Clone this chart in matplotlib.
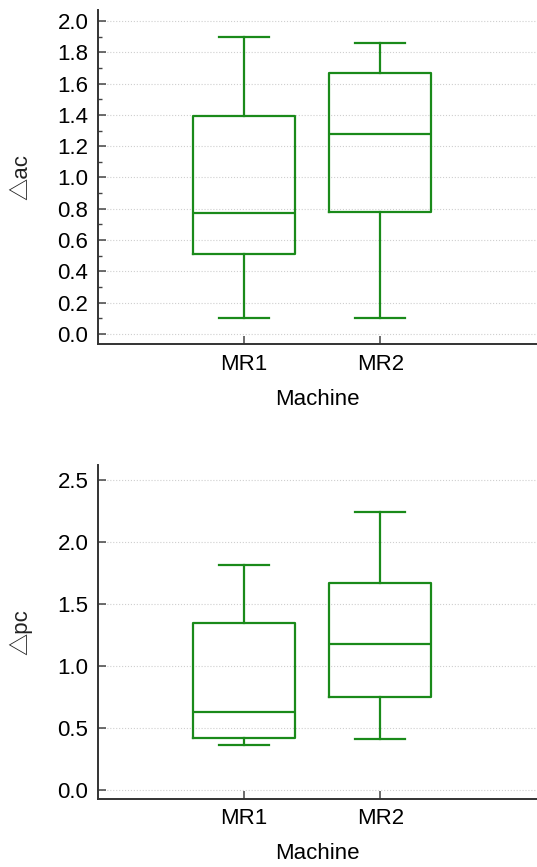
import numpy as np
import matplotlib.pyplot as plt
from matplotlib.ticker import MultipleLocator

plt.rcParams['font.family'] = ['Liberation Sans', 'DejaVu Sans']

machines = ['MR1', 'MR2']

# delta ac: whisker low, Q1, median, Q3, whisker high
ac_low = [0.10, 0.10]
ac_q1 = [0.51, 0.78]
ac_med = [0.77, 1.28]
ac_q3 = [1.39, 1.67]
ac_high = [1.90, 1.86]

# delta pc
pc_low = [0.36, 0.41]
pc_q1 = [0.42, 0.75]
pc_med = [0.63, 1.18]
pc_q3 = [1.35, 1.67]
pc_high = [1.81, 2.24]

green = '#1a8a1a'


def make_stats(low, q1, med, q3, high):
    st = []
    for i, m in enumerate(machines):
        st.append({'label': m, 'whislo': low[i], 'q1': q1[i], 'med': med[i],
                   'q3': q3[i], 'whishi': high[i], 'fliers': []})
    return st


def draw(ax, stats, ylabel, ylim, major, minor):
    ln = dict(color=green, lw=1.6)
    ax.bxp(stats, positions=[0, 1], widths=0.75, capwidths=0.37,
           boxprops=ln, whiskerprops=ln, capprops=ln, medianprops=ln,
           showfliers=False)
    ax.set_xlim(-1.07, 2.15)
    ax.set_ylim(*ylim)
    ax.yaxis.set_major_locator(MultipleLocator(major))
    if minor:
        ax.yaxis.set_minor_locator(MultipleLocator(minor))
    ax.yaxis.set_major_formatter('{x:.1f}')
    ax.grid(axis='y', color='#cfcfcf', ls=':', lw=0.8)
    ax.set_axisbelow(True)
    for s in ['top', 'right']:
        ax.spines[s].set_visible(False)
    for s in ['left', 'bottom']:
        ax.spines[s].set_color('#333333')
        ax.spines[s].set_linewidth(1.4)
    ax.tick_params(axis='both', which='major', direction='in', length=6,
                   width=1.1, color='#444444', labelsize=16, pad=7)
    ax.tick_params(axis='y', which='minor', direction='in', length=3,
                   width=1.0, color='#444444')
    ax.set_xticks([0, 1])
    ax.set_xticklabels(machines)
    ax.set_xlabel('Machine', fontsize=16, labelpad=10)
    ax.set_ylabel(ylabel, fontsize=16, color='#222222', labelpad=18,
                  family=['Liberation Sans', 'Noto Sans CJK SC', 'DejaVu Sans'])


fig = plt.figure(figsize=(5.37, 8.67), dpi=100)
ax1 = fig.add_axes([0.1825, 0.6032, 0.8175, 0.3853])
ax2 = fig.add_axes([0.1825, 0.0788, 0.8175, 0.3849])

draw(ax1, make_stats(ac_low, ac_q1, ac_med, ac_q3, ac_high), '\u25b3ac',
     (-0.064, 2.07), 0.2, 0.1)
draw(ax2, make_stats(pc_low, pc_q1, pc_med, pc_q3, pc_high), '\u25b3pc',
     (-0.07, 2.62), 0.5, None)

fig.savefig('out.png', dpi=100)
